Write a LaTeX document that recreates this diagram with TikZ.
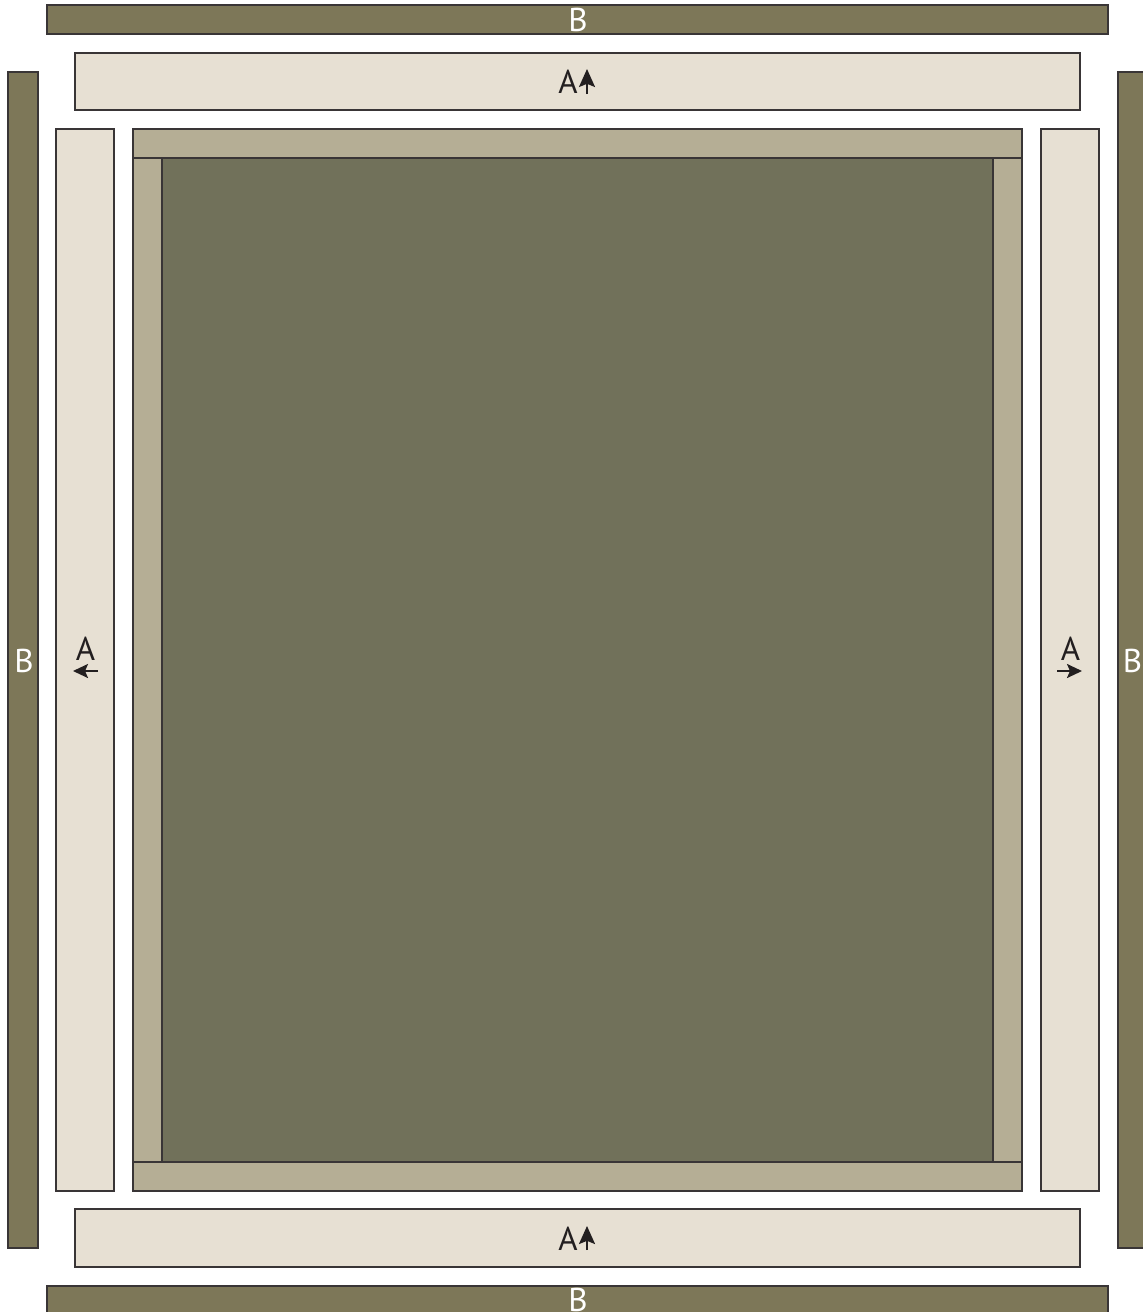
\documentclass[tikz,border=0pt]{standalone}
\usepackage{fontspec}
\setmainfont{PT Sans}
\usepackage{xcolor}
\usetikzlibrary{arrows.meta}

\definecolor{stripB}{HTML}{7D7758}
\definecolor{stripA}{HTML}{E7E0D3}
\definecolor{frameC}{HTML}{B5AE95}
\definecolor{panelC}{HTML}{71715A}
\definecolor{inkC}{HTML}{231F20}

\begin{document}
\begin{tikzpicture}[x=0.5pt, y=-0.5pt,
    edge/.style={draw=inkC!90, line width=0.6pt},
    lbl/.style={font=\fontsize{16.5}{19}\selectfont, inner sep=0pt},
    uparrow/.style={-{Stealth[length=9pt, width=8pt, inset=1.6pt]}, line width=1pt, draw=inkC},
    sidearrow/.style={-{Stealth[length=7.5pt, width=7pt, inset=1.5pt]}, line width=1.1pt, draw=inkC}]
    \useasboundingbox (0,0) rectangle (1142,1312);

    % 1. Dải B (viền ngoài)
    \draw[edge, fill=stripB] (47,5) rectangle (1108,34);
    \draw[edge, fill=stripB] (47,1286) rectangle (1108,1316);
    \draw[edge, fill=stripB] (8,72) rectangle (38,1248);
    \draw[edge, fill=stripB] (1118,72) rectangle (1148,1248);
    \node[lbl, text=white] (Btop) at (578,20) {B};
    \node[lbl, text=white] (Bbot) at (578,1300) {B};
    \node[lbl, text=white] (Bleft) at (24,661) {B};
    \node[lbl, text=white] (Bright) at (1132.5,661) {B};

    % 2. Dải A
    \draw[edge, fill=stripA] (75,53) rectangle (1080,110);
    \draw[edge, fill=stripA] (75,1209) rectangle (1080,1267);
    \draw[edge, fill=stripA] (56,129) rectangle (114,1191);
    \draw[edge, fill=stripA] (1041,129) rectangle (1099,1191);

    % 3. Nhãn A và mũi tên hướng
    \node[lbl, text=inkC] (Atop) at (568,82) {A};
    \node[lbl, text=inkC] (Abot) at (568,1238.5) {A};
    \node[lbl, text=inkC] (Aleft) at (85.5,649) {A};
    \node[lbl, text=inkC] (Aright) at (1070.5,649) {A};
    \coordinate (atop0) at (587,94);
    \coordinate (abot0) at (587,1250);
    \coordinate (aleft0) at (98,671);
    \coordinate (aright0) at (1057,671);
    \draw[uparrow] (atop0) -- ++(0,-25);
    \draw[uparrow] (abot0) -- ++(0,-24);
    \draw[sidearrow] (aleft0) -- ++(-25,0);
    \draw[sidearrow] (aright0) -- ++(25,0);

    % 4. Khung giữa
    \draw[edge, fill=frameC] (133,129) rectangle (1022,1191);
    \draw[edge, fill=panelC] (162,158) rectangle (993,1162);
    \draw[edge] (133,158) -- (1022,158);
    \draw[edge] (133,1162) -- (1022,1162);
\end{tikzpicture}
\end{document}
